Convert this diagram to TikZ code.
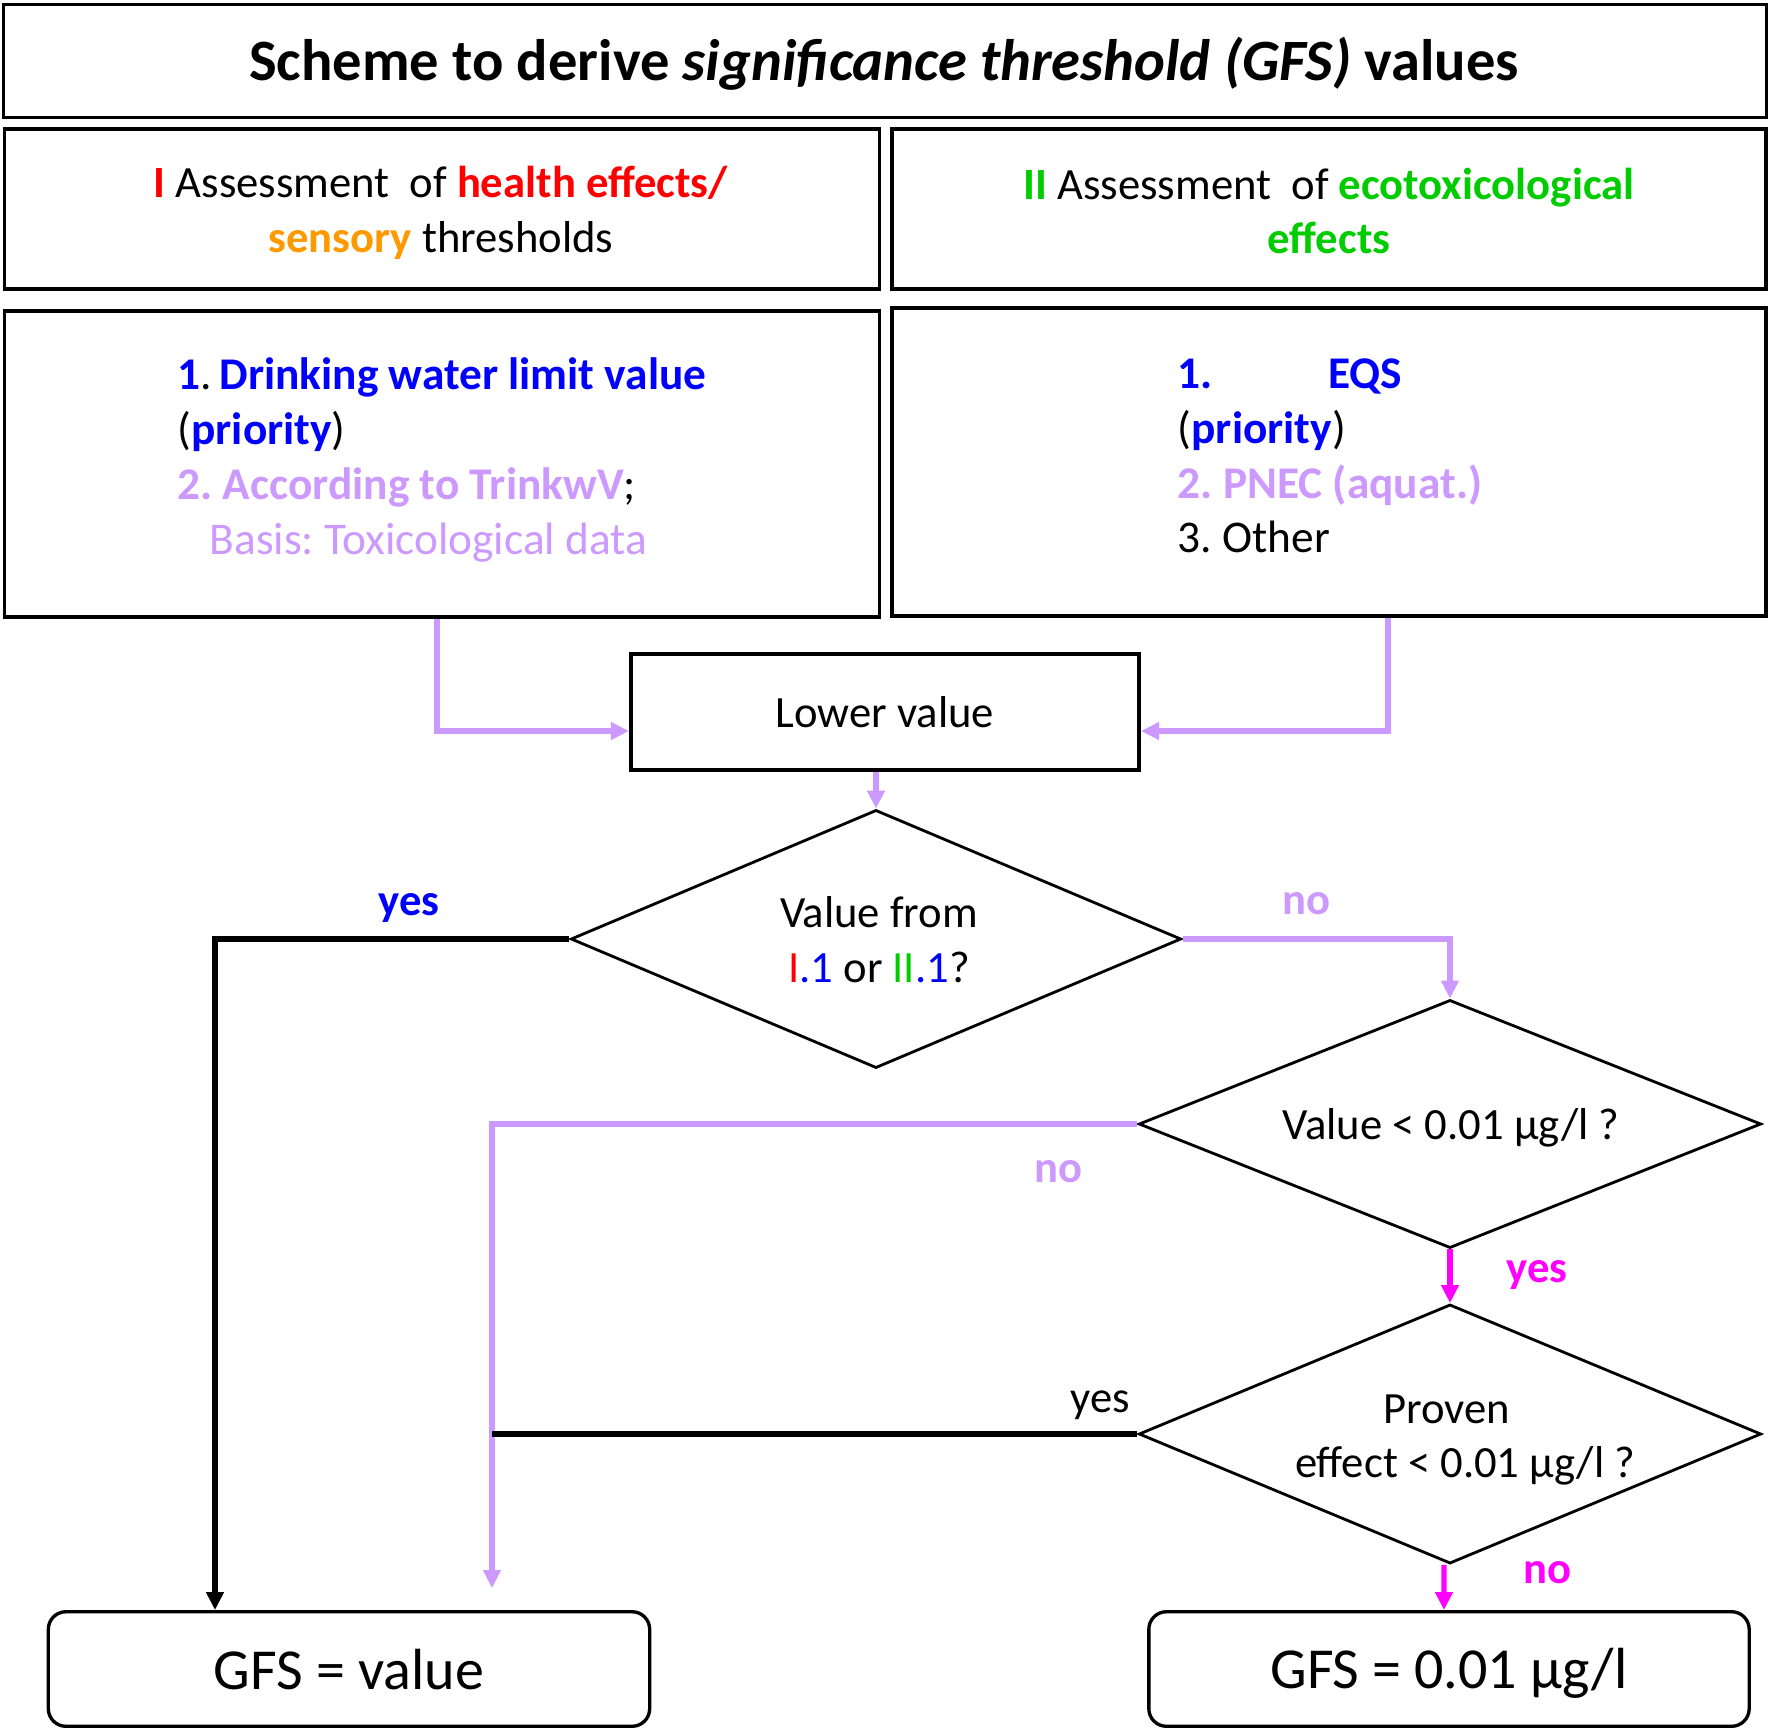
\documentclass[tikz,border=0pt]{standalone}
\usepackage{fontspec}
\setmainfont{Carlito}
\usetikzlibrary{shapes.geometric,arrows.meta,calc}
\frenchspacing
\definecolor{lpurple}{RGB}{204,153,255}
\definecolor{mag}{RGB}{255,0,255}
\definecolor{dgreen}{RGB}{0,204,0}
\definecolor{orng}{RGB}{255,153,0}
\definecolor{bblue}{RGB}{0,0,255}
\definecolor{rred}{RGB}{255,0,0}
\tikzset{
  box/.style={draw, line width=1.1pt, inner sep=0pt},
  rbox/.style={draw, line width=0.95pt, rounded corners=5pt, inner sep=0pt},
  dia/.style={diamond, draw, line width=0.8pt, inner sep=0pt},
  txt/.style={font=\fontsize{12.7}{15.6}\selectfont, align=center, inner sep=0pt},
  ltxt/.style={font=\fontsize{12.9}{15.6}\selectfont, align=left, inner sep=0pt},
  pline/.style={draw=lpurple, line width=1.55pt},
  mline/.style={draw=mag, line width=1.55pt},
  kline/.style={draw=black, line width=1.55pt},
  ptip/.style={-{Triangle[length=1.8mm,width=1.7mm]}},
  ktip/.style={-{Triangle[length=1.8mm,width=1.7mm]}},
  lab/.style={font=\fontsize{12.7}{15}\selectfont\bfseries, inner sep=0pt},
}
\begin{document}
\frenchspacing
\begin{tikzpicture}[x=0.01cm,y=-0.01cm]
\useasboundingbox (0,0) rectangle (1772,1730);
% boxes
\node[box, minimum width=17.62cm, minimum height=1.13cm] (title) at (885,61) {};
\node[font=\fontsize{16.65}{20}\selectfont\bfseries, inner sep=0pt] (titletxt) at (884,64) {Scheme to derive \textit{significance threshold (GFS)} values};
\node[box, minimum width=8.745cm, minimum height=1.60cm] (boxI) at (442,209) {};
\node[txt] (boxItxt) at (441,213) {\textcolor{rred}{\textbf{I}} Assessment\ \ of \textcolor{rred}{\textbf{health effects/}}\\ \textcolor{orng}{\textbf{sensory}} thresholds};
\node[box, minimum width=8.74cm, minimum height=1.60cm] (boxII) at (1329,209) {};
\node[txt] (boxIItxt) at (1329,211) {\textcolor{dgreen}{\textbf{II}} Assessment\ \ of \textcolor{dgreen}{\textbf{ecotoxicological}}\\ \textcolor{dgreen}{\textbf{effects}}};
\node[box, minimum width=8.745cm, minimum height=3.06cm] (boxL) at (442,464) {};
\node[ltxt] (boxLtxt) at (442,460) {\textcolor{bblue}{\textbf{1}}.\,\textcolor{bblue}{\textbf{Drinking water limit value}}\\
(\textcolor{bblue}{\textbf{priority}})\\
\textcolor{lpurple}{\textbf{2. According to TrinkwV}};\\
\hspace*{0.32cm}\textcolor{lpurple}{Basis: Toxicological data}};
\node[box, minimum width=8.74cm, minimum height=3.08cm] (boxR) at (1329,462) {};
\node[ltxt] (boxRtxt) at (1330,456) {\textcolor{bblue}{\textbf{1.}\hspace*{1.15cm}\textbf{EQS}}\\
(\textcolor{bblue}{\textbf{priority}})\\
\textcolor{lpurple}{\textbf{2. PNEC (aquat.)}}\\
3. Other};
\node[box, minimum width=5.08cm, minimum height=1.16cm] (lower) at (885,712) {};
\node[txt] (lowertxt) at (885,712) {Lower value};
% diamonds
\node[dia, minimum width=6.10cm, minimum height=2.58cm] (d1) at (876,939) {};
\node[txt] (d1txt) at (879,940) {Value from\\ \textcolor{rred}{I}\textcolor{bblue}{.1} or \textcolor{dgreen}{II}\textcolor{bblue}{.1}?};
\node[dia, minimum width=6.22cm, minimum height=2.48cm] (d2) at (1450,1124) {};
\node[txt] (d2txt) at (1451,1128) {Value < 0.01 µg/l ?};
\node[dia, minimum width=6.22cm, minimum height=2.59cm] (d3) at (1450,1434) {};
\node[txt] (d3txt) at (1455,1440) {Proven\hspace*{0.16cm}\\ \ \ effect < 0.01 µg/l ?};
% result boxes
\node[rbox, minimum width=6.01cm, minimum height=1.145cm] (gv) at (349,1669) {};
\node[font=\fontsize{16.5}{20}\selectfont, inner sep=0pt] (gvtxt) at (349,1670) {GFS = value};
\node[rbox, minimum width=6.00cm, minimum height=1.145cm] (g0) at (1449,1669) {};
\node[font=\fontsize{16.5}{20}\selectfont, inner sep=0pt] (g0txt) at (1449,1673) {GFS = 0.01 µg/l};
% helper coordinates
\coordinate (xl) at (437,0);
\coordinate (xr) at (1388,0);
\coordinate (xyes) at (215,0);
\coordinate (xno) at (492,0);
% connectors
\draw[pline,ptip] (boxL.south -| xl) |- ([yshift=-0.19cm]lower.west);
\draw[pline,ptip] (boxR.south -| xr) |- ([yshift=-0.19cm]lower.east);
\draw[pline,ptip] (lower.south -| d1.north) -- (d1.north);
\draw[kline,ktip] (d1.west) -| (gv.north -| xyes);
\draw[pline,ptip] (d1.east) -| (d2.north);
\draw[pline,ptip] (d2.west) -| ([yshift=0.22cm]gv.north -| xno);
\draw[mline,ptip] (d2.south) -- (d3.north);
\draw[kline] (d3.west) -- (d3.west -| xno);
\draw[mline,ptip] ([xshift=-0.06cm]d3.south) -- ([xshift=-0.05cm]g0.north);
% labels
\node[lab, text=bblue] (l1) at (409,908) {yes};
\node[lab, text=lpurple] (l2) at (1306,904) {no};
\node[lab, text=lpurple] (l3) at (1058,1172) {no};
\node[lab, text=mag] (l4) at (1537,1275) {yes};
\node[font=\fontsize{12.7}{15}\selectfont, inner sep=0pt] (l5) at (1100,1405) {yes};
\node[lab, text=mag] (l6) at (1547,1573) {no};
\end{tikzpicture}
\end{document}
